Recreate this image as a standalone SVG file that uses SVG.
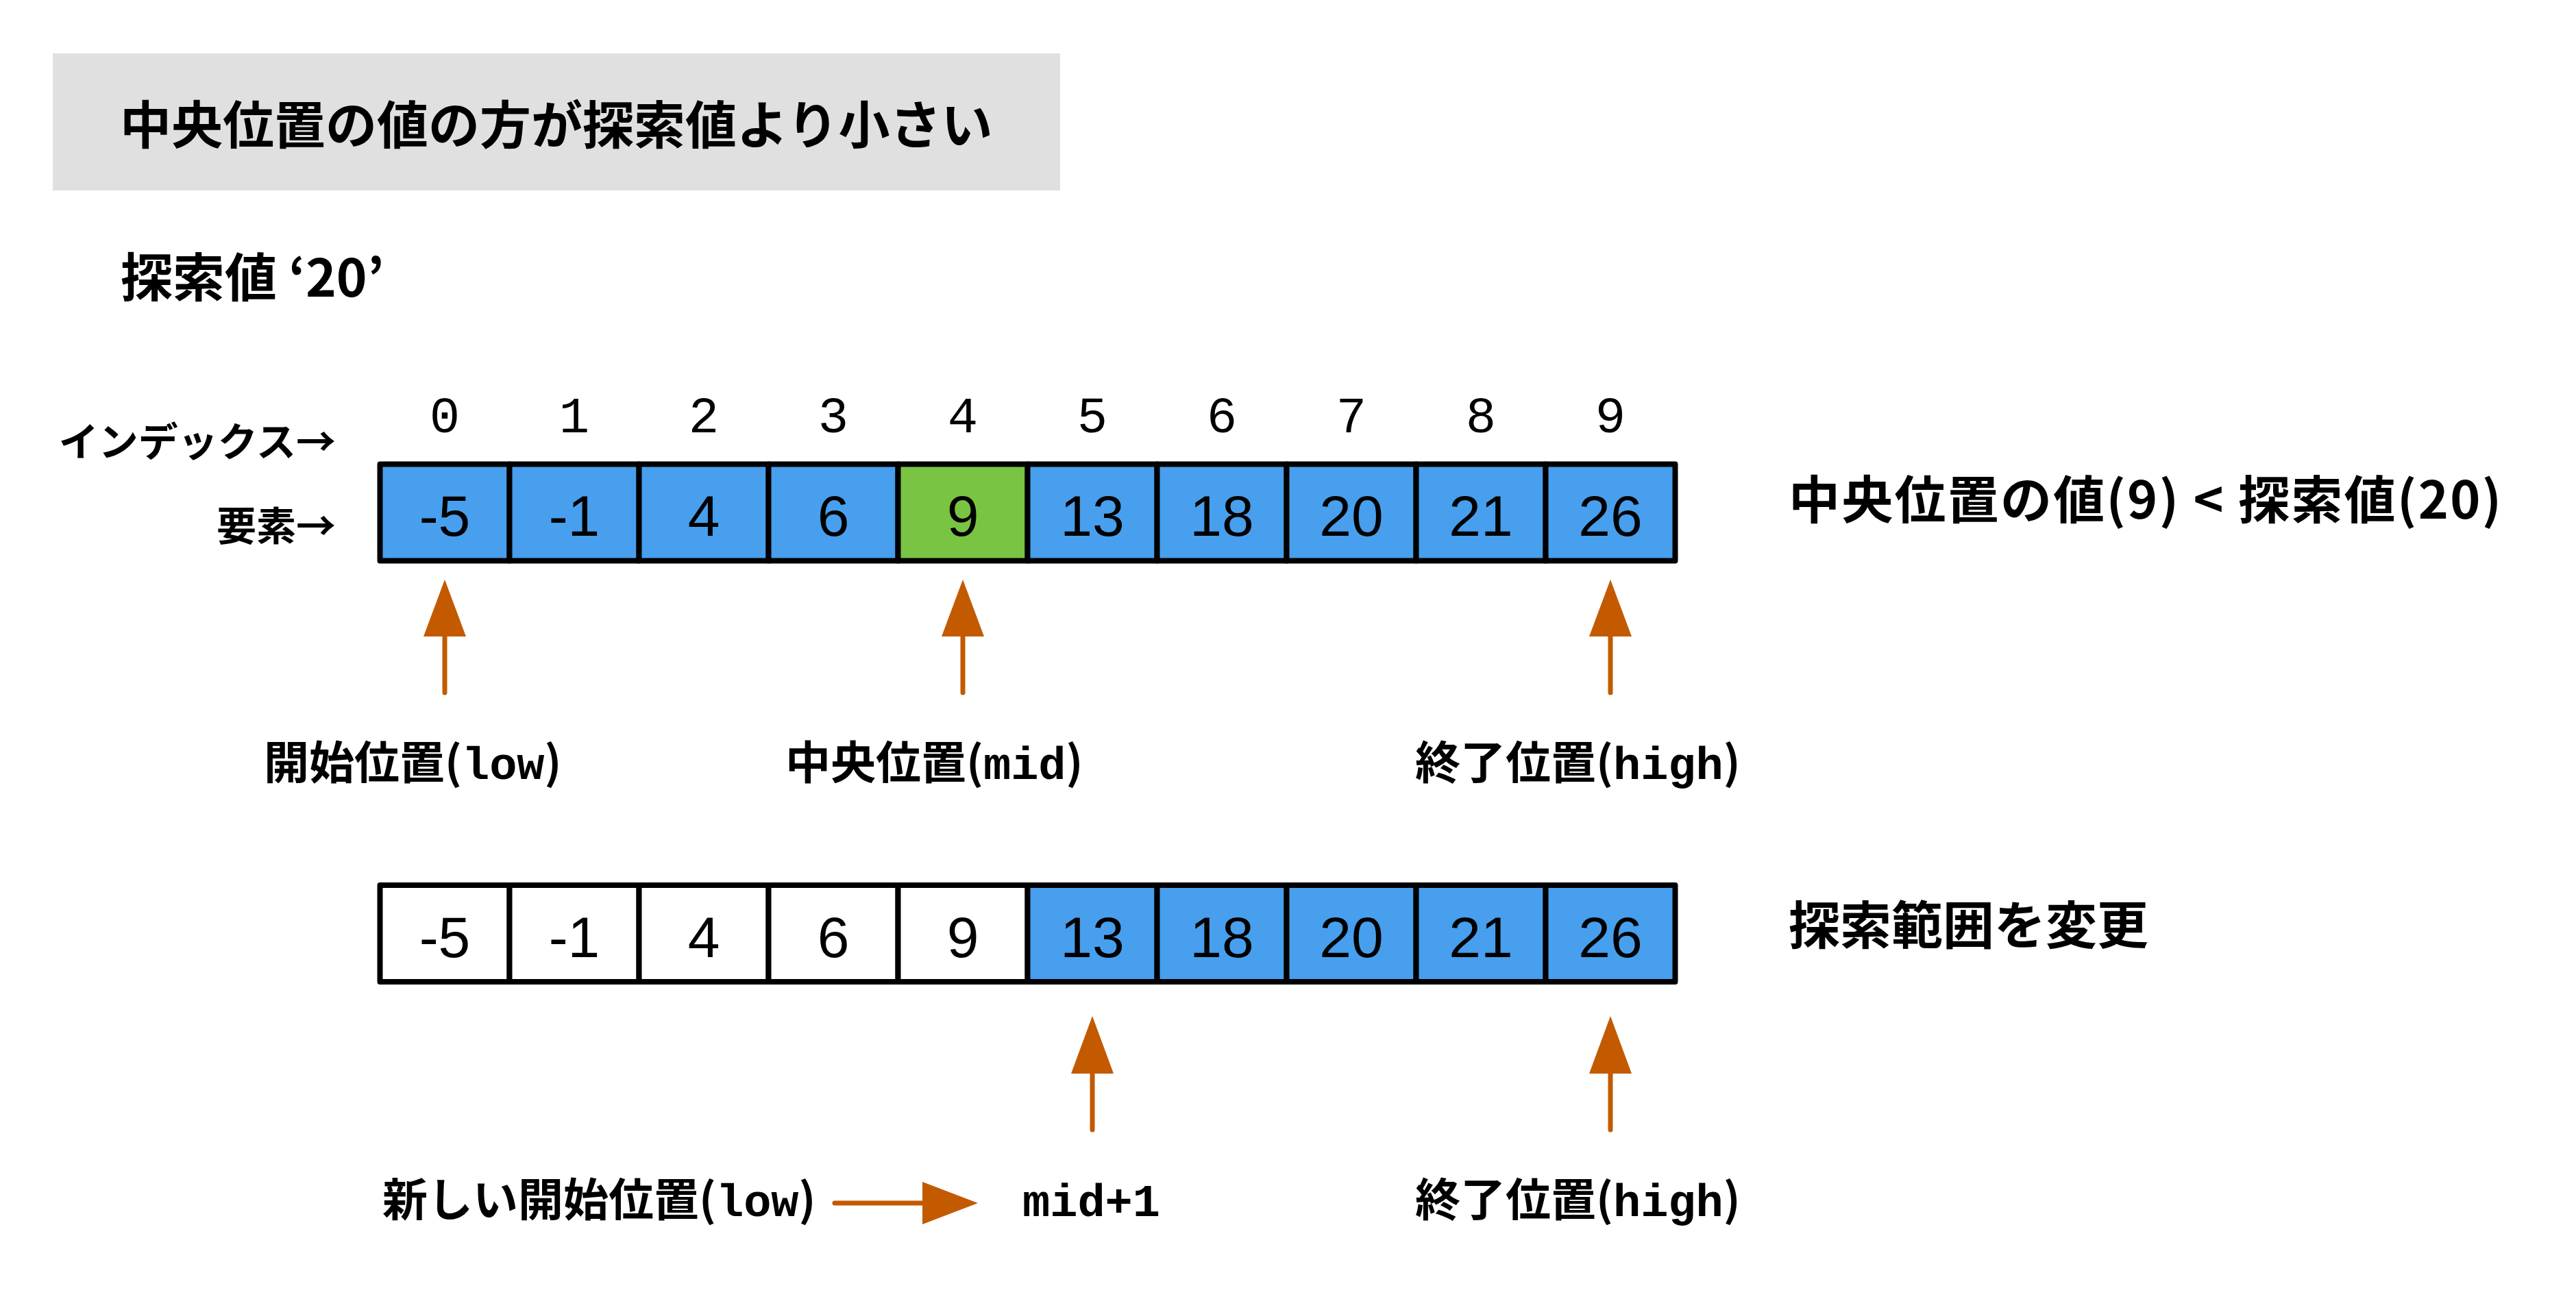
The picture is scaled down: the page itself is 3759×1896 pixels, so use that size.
<svg xmlns="http://www.w3.org/2000/svg" width="3759" height="1896" viewBox="0 0 3759 1896">
<style>
.jp{font-family:"Noto Sans CJK JP","Liberation Sans",sans-serif;font-weight:700;fill:#000}
.mono{font-family:"Liberation Mono",monospace;font-weight:700}
.idx{font-family:"Liberation Mono",monospace;font-size:74px;fill:#000;text-anchor:middle}
.num{font-family:"Liberation Sans",Arial,sans-serif;font-size:84px;fill:#000;text-anchor:middle}
.cell{stroke:#000;stroke-width:8;stroke-linejoin:round}
.blue{fill:#479fee}
.green{fill:#7ac443}
.white{fill:#fff}
.shaft{stroke:#c35a00;stroke-width:7;stroke-linecap:round;fill:none}
.head{fill:#c35a00}
</style>
<rect width="3759" height="1896" fill="#fff"/>
<g id="title">
<rect x="77" y="78" width="1470" height="200" fill="#e0e0e0"/>
<text class="jp" x="175" y="210" font-size="75">中央位置の値の方が探索値より小さい</text>
</g>
<g id="search-value"><text class="jp" x="176" y="433" font-size="76">探索値 ‘20’</text></g>
<g id="row-labels">
<text class="jp" x="490" y="666" font-size="58" text-anchor="end">インデックス→</text>
<text class="jp" x="490" y="789" font-size="58" text-anchor="end">要素→</text>
</g>
<g id="indices">
<text class="idx" x="649" y="631">0</text>
<text class="idx" x="838" y="631">1</text>
<text class="idx" x="1027" y="631">2</text>
<text class="idx" x="1216" y="631">3</text>
<text class="idx" x="1405" y="631">4</text>
<text class="idx" x="1594" y="631">5</text>
<text class="idx" x="1783" y="631">6</text>
<text class="idx" x="1972" y="631">7</text>
<text class="idx" x="2161" y="631">8</text>
<text class="idx" x="2350" y="631">9</text>
</g>
<g id="array1">
<g id="a1-0"><rect class="cell blue" x="554.5" y="677.5" width="189" height="141"/><text class="num" x="649" y="782">-5</text></g>
<g id="a1-1"><rect class="cell blue" x="743.5" y="677.5" width="189" height="141"/><text class="num" x="838" y="782">-1</text></g>
<g id="a1-2"><rect class="cell blue" x="932.5" y="677.5" width="189" height="141"/><text class="num" x="1027" y="782">4</text></g>
<g id="a1-3"><rect class="cell blue" x="1121.5" y="677.5" width="189" height="141"/><text class="num" x="1216" y="782">6</text></g>
<g id="a1-4"><rect class="cell green" x="1310.5" y="677.5" width="189" height="141"/><text class="num" x="1405" y="782">9</text></g>
<g id="a1-5"><rect class="cell blue" x="1499.5" y="677.5" width="189" height="141"/><text class="num" x="1594" y="782">13</text></g>
<g id="a1-6"><rect class="cell blue" x="1688.5" y="677.5" width="189" height="141"/><text class="num" x="1783" y="782">18</text></g>
<g id="a1-7"><rect class="cell blue" x="1877.5" y="677.5" width="189" height="141"/><text class="num" x="1972" y="782">20</text></g>
<g id="a1-8"><rect class="cell blue" x="2066.5" y="677.5" width="189" height="141"/><text class="num" x="2161" y="782">21</text></g>
<g id="a1-9"><rect class="cell blue" x="2255.5" y="677.5" width="189" height="141"/><text class="num" x="2350" y="782">26</text></g>
</g>
<g id="compare"><text class="jp" x="2610" y="757" font-size="75" textLength="1040" lengthAdjust="spacing">中央位置の値(9) &lt; 探索値(20)</text></g>
<g id="array2">
<g id="a2-0"><rect class="cell white" x="554.5" y="1292" width="189" height="141"/><text class="num" x="649" y="1397">-5</text></g>
<g id="a2-1"><rect class="cell white" x="743.5" y="1292" width="189" height="141"/><text class="num" x="838" y="1397">-1</text></g>
<g id="a2-2"><rect class="cell white" x="932.5" y="1292" width="189" height="141"/><text class="num" x="1027" y="1397">4</text></g>
<g id="a2-3"><rect class="cell white" x="1121.5" y="1292" width="189" height="141"/><text class="num" x="1216" y="1397">6</text></g>
<g id="a2-4"><rect class="cell white" x="1310.5" y="1292" width="189" height="141"/><text class="num" x="1405" y="1397">9</text></g>
<g id="a2-5"><rect class="cell blue" x="1499.5" y="1292" width="189" height="141"/><text class="num" x="1594" y="1397">13</text></g>
<g id="a2-6"><rect class="cell blue" x="1688.5" y="1292" width="189" height="141"/><text class="num" x="1783" y="1397">18</text></g>
<g id="a2-7"><rect class="cell blue" x="1877.5" y="1292" width="189" height="141"/><text class="num" x="1972" y="1397">20</text></g>
<g id="a2-8"><rect class="cell blue" x="2066.5" y="1292" width="189" height="141"/><text class="num" x="2161" y="1397">21</text></g>
<g id="a2-9"><rect class="cell blue" x="2255.5" y="1292" width="189" height="141"/><text class="num" x="2350" y="1397">26</text></g>
</g>
<g id="change"><text class="jp" x="2610" y="1378" font-size="75">探索範囲を変更</text></g>
<g id="labels">
<g id="low1"><text class="jp" x="385" y="1137" font-size="66">開始位置(<tspan class="mono" font-size="67">low</tspan>)</text></g>
<g id="mid1"><text class="jp" x="1146" y="1137" font-size="66">中央位置(<tspan class="mono" font-size="67">mid</tspan>)</text></g>
<g id="high1"><text class="jp" x="2065" y="1137" font-size="66">終了位置(<tspan class="mono" font-size="67">high</tspan>)</text></g>
<g id="low2"><text class="jp" x="558" y="1775" font-size="66">新しい開始位置(<tspan class="mono" font-size="67">low</tspan>)</text></g>
<g id="mid-plus"><text class="mono" x="1492" y="1775" font-size="67" fill="#000">mid+1</text></g>
<g id="high2"><text class="jp" x="2065" y="1775" font-size="66">終了位置(<tspan class="mono" font-size="67">high</tspan>)</text></g>
</g>
<g id="connectors">
<line class="shaft" x1="649" y1="1011" x2="649" y2="925"/><polygon class="head" points="649,846 680,929 618,929"/>
<line class="shaft" x1="1405" y1="1011" x2="1405" y2="925"/><polygon class="head" points="1405,846 1436,929 1374,929"/>
<line class="shaft" x1="2350" y1="1011" x2="2350" y2="925"/><polygon class="head" points="2350,846 2381,929 2319,929"/>
<line class="shaft" x1="1594" y1="1649" x2="1594" y2="1563"/><polygon class="head" points="1594,1483 1625,1567 1563,1567"/>
<line class="shaft" x1="2350" y1="1649" x2="2350" y2="1563"/><polygon class="head" points="2350,1483 2381,1567 2319,1567"/>
<line class="shaft" x1="1218" y1="1756" x2="1350" y2="1756" stroke-width="9"/><polygon class="head" points="1427,1756 1346,1725 1346,1787"/>
</g>
</svg>
